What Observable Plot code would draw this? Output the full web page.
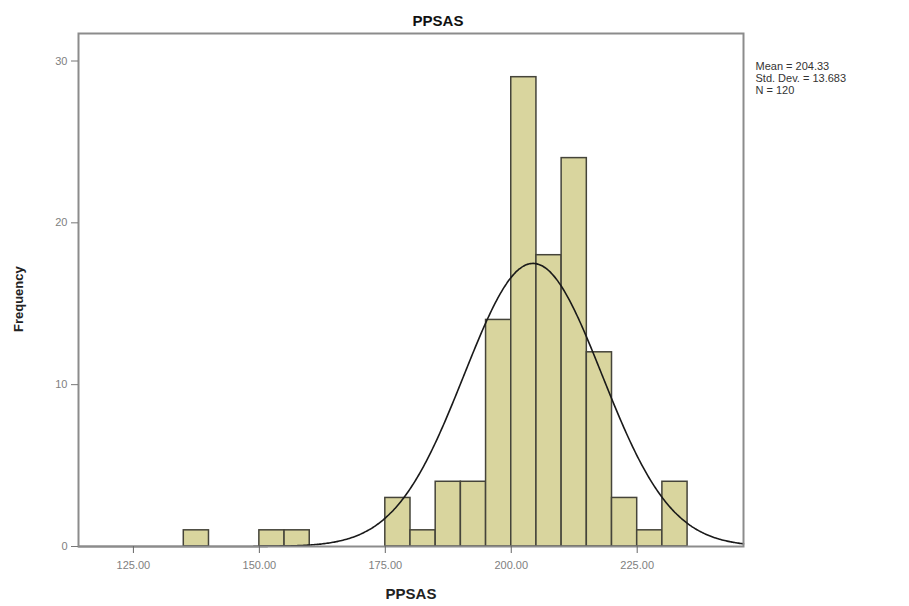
<!DOCTYPE html>
<html>
<head>
<meta charset="utf-8">
<script src="https://cdn.jsdelivr.net/npm/d3@7"></script>
<script src="https://cdn.jsdelivr.net/npm/@observablehq/plot@0.6"></script>
<style>
  html, body { margin: 0; padding: 0; background: #ffffff; }
  #chart svg { display: block; }
</style>
</head>
<body>
<div id="chart"></div>
<script>
// Histogram bins (lower edge, upper edge) and counts
const binStart = [135, 150, 155, 175, 180, 185, 190, 195, 200, 205, 210, 215, 220, 225, 230];
const binEnd   = [140, 155, 160, 180, 185, 190, 195, 200, 205, 210, 215, 220, 225, 230, 235];
const counts   = [1, 1, 1, 3, 1, 4, 4, 14, 29, 18, 24, 12, 3, 1, 4];

// Summary statistics shown in the chart
const statMean = 204.33;
const statSD = 13.683;
const statN = 120;
const binWidth = 5;

// Tick values
const xTicks = [125, 150, 175, 200, 225];
const yTicks = [0, 10, 20, 30];

const xDomain = [114.1, 246.1];
const yDomain = [0, 31.7];

const bars = binStart.map((s, i) => ({x1: s, x2: binEnd[i], y: counts[i]}));

// Fitted normal curve from the stated mean / std. dev. / N
const curve = d3.range(xDomain[0], xDomain[1] + 0.01, 0.25).map(x => ({
  x,
  y: statN * binWidth / (statSD * Math.sqrt(2 * Math.PI)) *
     Math.exp(-0.5 * ((x - statMean) / statSD) ** 2)
}));

const font = "Liberation Sans, Arial, Helvetica, sans-serif";

const chart = Plot.plot({
  width: 909,
  height: 606,
  marginLeft: 78,
  marginRight: 166,
  marginTop: 33,
  marginBottom: 60,
  style: {fontFamily: font, background: "#ffffff", overflow: "visible"},
  x: {domain: xDomain, ticks: xTicks, tickFormat: d3.format(".2f"), label: null},
  y: {domain: yDomain, ticks: yTicks, tickFormat: d3.format("d"), label: null},
  marks: [
    Plot.rectY(bars, {x1: "x1", x2: "x2", y: "y", fill: "#d9d59e", stroke: "#45443a", strokeWidth: 1.5}),
    Plot.line(curve, {x: "x", y: "y", stroke: "#1a1a1a", strokeWidth: 1.6, curve: "basis"}),
    Plot.frame({stroke: "#8c8c8c", strokeWidth: 2}),
    Plot.axisX({ticks: xTicks, tickFormat: d3.format(".2f"), tickSize: 7, tickPadding: 8,
      stroke: "#666", fill: "#808080", fontSize: 11, label: null}),
    Plot.axisY({ticks: yTicks, tickFormat: d3.format("d"), tickSize: 7, tickPadding: 4,
      stroke: "#777", fill: "#808080", fontSize: 11, label: null}),
    // Title
    Plot.text(["PPSAS"], {frameAnchor: "top", dx: 27, dy: -18, fontSize: 15, fontWeight: "bold", fill: "#111"}),
    // X axis title
    Plot.text(["PPSAS"], {frameAnchor: "bottom", dy: 52, fontSize: 15, fontWeight: "bold", fill: "#222"}),
    // Y axis title
    Plot.text(["Frequency"], {frameAnchor: "left", dx: -60, dy: 42, rotate: -90, fontSize: 13, fontWeight: "bold", fill: "#222"}),
    // Statistics legend
    Plot.text([`Mean = ${statMean.toFixed(2)}\nStd. Dev. = ${statSD.toFixed(3)}\nN = ${statN}`], {
      frameAnchor: "top-right", dx: 12, dy: 28, textAnchor: "start", lineAnchor: "top",
      lineHeight: 1.1, fontSize: 11, fill: "#333"})
  ]
});

document.getElementById("chart").appendChild(chart);
</script>
</body>
</html>
